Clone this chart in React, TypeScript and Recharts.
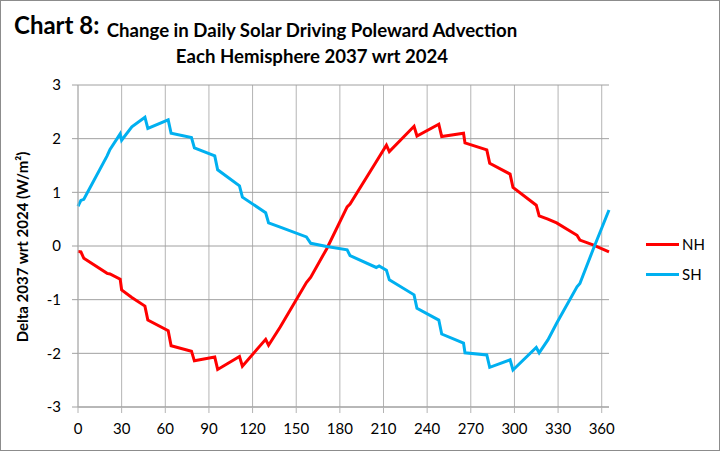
import React from 'react';
import { LineChart, Line, XAxis, YAxis, CartesianGrid } from 'recharts';

// day of year (2037 vs 2024)
const days = [0, 2, 4, 20, 22, 29, 30, 37, 46, 48, 62, 64, 78, 80, 94, 96, 111, 113, 129, 131, 139, 157, 160, 171, 185, 187, 205, 207, 212, 214, 231, 233, 248, 250, 265, 266, 281, 283, 297, 299, 315, 317, 323, 329, 343, 345, 354, 365];
const nh = [-0.10, -0.11, -0.23, -0.51, -0.52, -0.62, -0.82, -0.96, -1.12, -1.38, -1.58, -1.86, -1.96, -2.14, -2.07, -2.30, -2.06, -2.24, -1.74, -1.85, -1.51, -0.68, -0.58, -0.05, 0.73, 0.78, 1.57, 1.66, 1.88, 1.76, 2.23, 2.05, 2.27, 2.04, 2.10, 1.92, 1.79, 1.54, 1.34, 1.09, 0.76, 0.56, 0.50, 0.43, 0.20, 0.11, 0.02, -0.11];
const sh = [0.74, 0.85, 0.87, 1.68, 1.80, 2.09, 1.97, 2.22, 2.40, 2.19, 2.35, 2.10, 2.02, 1.83, 1.68, 1.42, 1.12, 0.91, 0.62, 0.43, 0.35, 0.17, 0.05, -0.01, -0.07, -0.18, -0.40, -0.37, -0.45, -0.63, -0.91, -1.16, -1.38, -1.64, -1.81, -1.99, -2.03, -2.26, -2.12, -2.31, -1.89, -1.99, -1.75, -1.44, -0.76, -0.70, -0.07, 0.67];

const xTicks = [0, 30, 60, 90, 120, 150, 180, 210, 240, 270, 300, 330, 360];
const yTicks = [-3, -2, -1, 0, 1, 2, 3];

const data = days.map((d, i) => ({ day: d, NH: nh[i], SH: sh[i] }));

const FONT = "Lato, 'Open Sans', sans-serif";
const RED = '#FF0000';
const BLUE = '#00B0F0';
const GRID = '#A0A0A0';
const VGRID = '#B4B4B4';

const series: [string, string][] = [['NH', RED], ['SH', BLUE]];

export default function App() {
  return (
    <div style={{ position: 'absolute', left: 0, top: 0, width: 720, height: 451, background: '#fff', border: '1px solid #8c8c8c', boxSizing: 'border-box', fontFamily: FONT }}>
      <div style={{ position: 'absolute', left: -1, top: -1 }}>
        <LineChart width={720} height={451} data={data} margin={{ top: 85, right: 111, left: 0, bottom: 14 }}>
          <CartesianGrid stroke={VGRID} strokeWidth={1} horizontal={false} verticalValues={xTicks} />
          <CartesianGrid stroke={GRID} strokeWidth={1} vertical={false} horizontalValues={yTicks} />
          <XAxis
            dataKey="day"
            type="number"
            domain={[0, 365]}
            ticks={xTicks}
            interval={0}
            height={30}
            axisLine={{ stroke: GRID }}
            tickLine={{ stroke: VGRID }}
            tickSize={6}
            tickMargin={10}
            tick={{ fill: '#000', fontSize: 15, fontFamily: FONT }}
          />
          <YAxis
            type="number"
            domain={[-3, 3]}
            ticks={yTicks}
            interval={0}
            width={78}
            axisLine={{ stroke: VGRID }}
            tickLine={{ stroke: GRID }}
            tickSize={6}
            tickMargin={11}
            tick={{ fill: '#000', fontSize: 15, fontFamily: FONT }}
          />
          <Line type="linear" dataKey="NH" stroke={RED} strokeWidth={3} dot={false} isAnimationActive={false} />
          <Line type="linear" dataKey="SH" stroke={BLUE} strokeWidth={3} dot={false} isAnimationActive={false} />
        </LineChart>
      </div>
      <div style={{ position: 'absolute', left: 13, top: 9, fontSize: 24, fontWeight: 700 }}>Chart 8:</div>
      <div style={{ position: 'absolute', left: 0, width: 622, top: 16, textAlign: 'center', fontSize: 18.6, fontWeight: 700, lineHeight: '26px' }}>
        Change in Daily Solar Driving Poleward Advection
        <br />
        Each Hemisphere 2037 wrt 2024
      </div>
      <div style={{ position: 'absolute', left: 21, top: 246, width: 0, height: 0 }}>
        <div style={{ position: 'absolute', transform: 'translate(-50%, -50%) rotate(-90deg)', whiteSpace: 'nowrap', fontSize: 15, fontWeight: 700 }}>
          Delta 2037 wrt 2024 (W/m²)
        </div>
      </div>
      <div style={{ position: 'absolute', left: 645, top: 228, fontSize: 15, color: '#000' }}>
        {series.map(([name, c]) => (
          <div key={name} style={{ display: 'flex', alignItems: 'center', height: 30 }}>
            <div style={{ width: 33, height: 3, background: c, marginRight: 3 }} />
            <span>{name}</span>
          </div>
        ))}
      </div>
    </div>
  );
}
